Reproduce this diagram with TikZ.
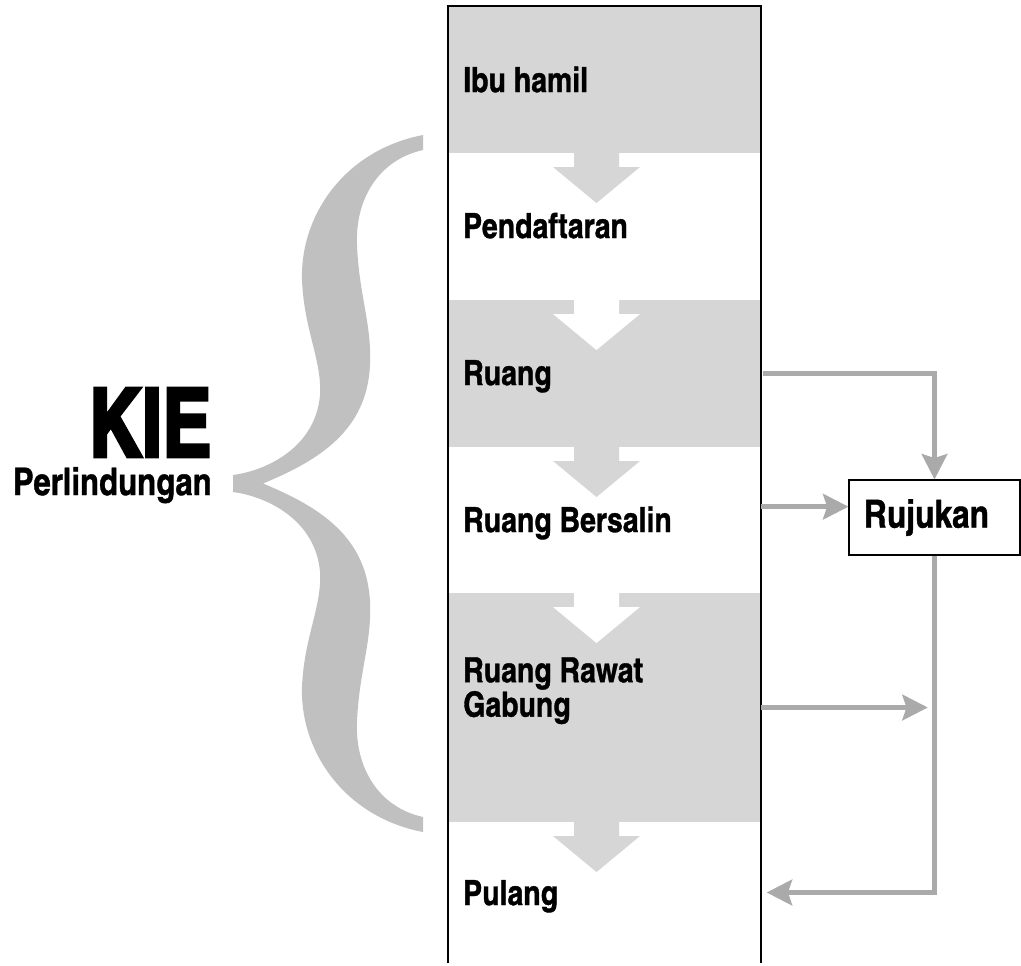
\documentclass[tikz,border=0pt]{standalone}
\usepackage{fontspec}
\setmainfont{texgyreheroscn}[Extension=.otf,UprightFont=*-regular,BoldFont=*-bold]
\newfontfamily\heavyfont{texgyreheroscn}[Extension=.otf,UprightFont=*-bold,FakeBold=1]
\newfontfamily\blackfont{texgyreheroscn}[Extension=.otf,UprightFont=*-bold,FakeBold=3]
\usepackage{tikz}
\usetikzlibrary{arrows.meta,positioning,calc}
\definecolor{bandgray}{RGB}{214,214,214}
\definecolor{bracegray}{RGB}{192,192,192}
\definecolor{linkgray}{RGB}{170,170,170}

\tikzset{
  band/.style={draw=none, inner sep=0pt, minimum width=234.75pt},
  steplabel/.style={anchor=base west, inner sep=0pt, font=\fontsize{26}{24}\selectfont\heavyfont},
  refbox/.style={draw=black, line width=0.8pt, fill=white, inner sep=0pt,
    minimum width=128.25pt, minimum height=56.25pt, font=\fontsize{29}{30}\selectfont\heavyfont},
  link/.style={draw=linkgray, line width=4pt, -{Stealth[length=19pt,width=19pt,inset=3pt]}}
}

\begin{document}
\begin{tikzpicture}[x=0.75pt,y=-0.75pt]
\useasboundingbox (0,0) rectangle (1021,965);
\foreach \nm/\ya/\yb/\col in {ibu/6/153/bandgray, daftar/153/300/white, ruang/300/447/bandgray,
    salin/447/593/white, gabung/593/822/bandgray, pulang/822/963/white}{
  \node[band, fill=\col, minimum height={(\yb-\ya)*0.75pt}] (\nm) at (604.5,{(\ya+\yb)/2}) {};
}
\foreach \yb/\col in {153/bandgray, 300/white, 447/bandgray, 593/white, 822/bandgray}{
  \fill[\col] (574,\yb) -- ++(45,0) -- ++(0,14) -- ++(21,0) -- ++(-43.5,36) -- ++(-43.5,-36) -- ++(21,0) -- cycle;
}
\draw[line width=1pt] (448,963) -- (448,6) -- (761,6) -- (761,963);

\node[steplabel] (tibu) at (463,92) {Ibu hamil};
\node[steplabel] (tdaftar) at (463,238) {Pendaftaran};
\node[steplabel] (truang) at (463,385) {Ruang};
\node[steplabel] (tsalin) at (463,532) {Ruang Bersalin};
\node[steplabel, anchor=north west, align=left] (tgabung) at (463,657) {Ruang Rawat\\Gabung};
\node[steplabel] (tpulang) at (463,905) {Pulang};

\fill[bracegray] (423,135) .. controls (345,150) and (300,215) .. (302,280)
  .. controls (304,330) and (322,360) .. (320,395) .. controls (316,445) and (270,470) .. (233,475)
  -- (233,492) .. controls (270,497) and (316,522) .. (320,572)
  .. controls (322,607) and (304,637) .. (302,687) .. controls (300,752) and (345,817) .. (423,832)
  -- (423,817) .. controls (378,807) and (355,767) .. (357,722)
  .. controls (359,672) and (372,642) .. (370,602) .. controls (367,537) and (320,507) .. (263,483.5)
  .. controls (320,460) and (367,430) .. (370,365) .. controls (372,325) and (359,295) .. (357,245)
  .. controls (355,200) and (378,160) .. (423,150) -- cycle;
\node[anchor=base east, inner sep=0pt, font=\fontsize{72}{72}\selectfont\blackfont] (kie) at (212,457) {\scalebox{0.94}[1]{KIE}};
\node[anchor=base east, inner sep=0pt, font=\fontsize{28.5}{30}\selectfont\heavyfont] (lindung) at (212,495) {Perlindungan};

\node[refbox] (rujukan) at (934.5,517.5) {Rujukan\kern12pt};
\draw[link] ([xshift=1.5pt]ruang.east) -| (rujukan.north);
\draw[link] ([yshift=10pt]salin.east) -- ([yshift=10pt]salin.east -| rujukan.west);
\draw[link, shorten >=5pt] (gabung.east) -- (gabung.east -| rujukan.south);
\draw[link, shorten >=4pt] (rujukan.south) |- (pulang.east);
\end{tikzpicture}
\end{document}
